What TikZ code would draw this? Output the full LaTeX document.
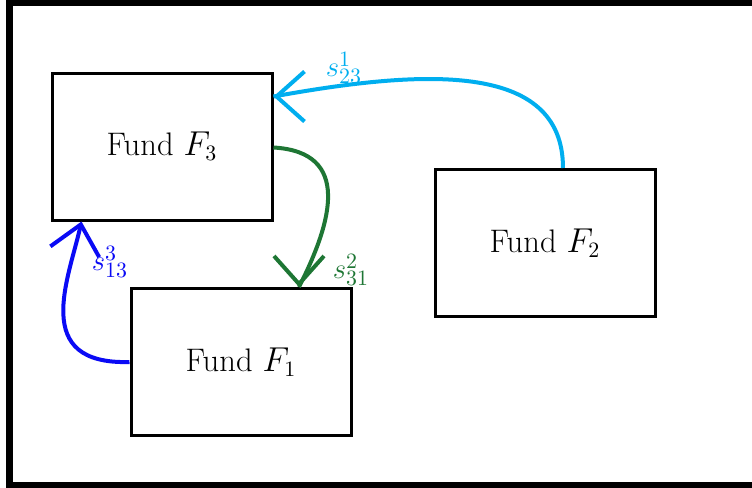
\documentclass[tikz,border=0pt]{standalone}
\usetikzlibrary{arrows.meta,calc}
\definecolor{cy}{RGB}{0,174,239}
\definecolor{gr}{RGB}{30,118,52}
\definecolor{bl}{RGB}{10,10,245}
\begin{document}
\begin{tikzpicture}[x=0.5pt,y=-0.5pt,
  fund/.style={draw,line width=1.5pt,minimum width=110pt,minimum height=73.5pt,inner sep=0pt,font=\fontsize{16.3}{19}\selectfont},
  curve/.style={line width=2pt},
  flow/.style={line width=2pt,-{Straight Barb[length=14pt,width=25pt,line width=2pt]}},
  lab/.style={font=\fontsize{15}{18}\selectfont}]
\useasboundingbox (0,0) rectangle (752,488);
\draw[line width=3.5pt] (9.5,2) rectangle (770,485.5);
\node[fund] (F3) at (162,146.5) {Fund $F_3$};
\node[fund] (F1) at (241,362) {Fund $F_1$};
\node[fund] (F2) at (545,243) {Fund $F_2$};
\coordinate (t1) at ([yshift=-12.5pt]F3.north east);
\coordinate (t2) at ([xshift=29pt]F1.north);
\coordinate (t3) at ([xshift=15.5pt]F3.south west);
% cyan: F2 -> F3
\draw[curve,cy] ([xshift=9pt]F2.north) .. controls (563,60) and (420,70) .. (t1);
\draw[flow,cy] ([xshift=2pt]t1) -- (t1);
% green: F3 -> F1
\draw[curve,gr] ([yshift=-0.5pt]F3.east) .. controls (352,152) and (332,222) .. (t2);
\draw[flow,gr] ([yshift=2pt]t2) -- (t2);
% blue: F1 -> F3
\draw[flow,bl] (F1.west) .. controls (30,365) and (69,278) .. (t3);
\node[lab,text=cy] (l1) at (344,68) {$s^1_{23}$};
\node[lab,text=gr] (l2) at (351,270) {$s^2_{31}$};
\node[lab,text=bl] (l3) at (110,262) {$s^3_{13}$};
\end{tikzpicture}
\end{document}
